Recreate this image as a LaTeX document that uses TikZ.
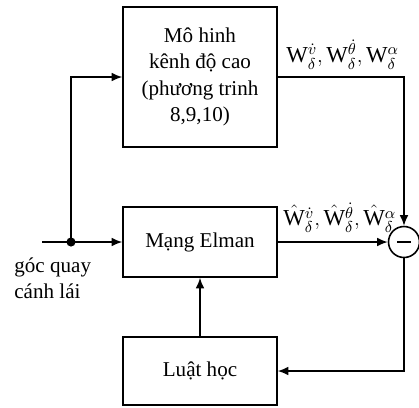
\documentclass[tikz,border=0pt]{standalone}
\usepackage{fontspec}
\setmainfont{Liberation Serif}
\usepackage{amsmath}
\usetikzlibrary{arrows.meta,calc,positioning}

\begin{document}
\begin{tikzpicture}[x=0.02cm,y=-0.02cm,
                block/.style={draw,line width=0.9pt,minimum width=3.08cm,align=center,font=\fontsize{12}{15}\selectfont},
                sig/.style={line width=0.9pt,-{Latex[length=6pt,width=5pt]}},
                wlabel/.style={font=\fontsize{13}{16}\selectfont,inner sep=1pt}]
                \useasboundingbox (0,0) rectangle (419,407);
                %Blocks
                \node[block,minimum height=2.8cm] (model) at (200,77) {Mô hinh\\kênh độ cao\\(phương trinh\\8,9,10)};
                \node[block,minimum height=1.4cm] (elman) at (200,242) {Mạng Elman};
                \node[block,minimum height=1.36cm] (luat) at (200,371) {Luật học};
                \node[draw,circle,line width=0.9pt,minimum size=0.62cm,inner sep=0pt] (sum) at (404,242) {};
                \draw[line width=0.9pt] ($(sum.center)+(-7,0)$) -- ($(sum.center)+(7,0)$);
                %Input
                \coordinate (in) at (42,242);
                \coordinate (split) at (71,242);
                \node[anchor=north west,align=left,inner sep=0pt,font=\fontsize{12}{15}\selectfont] (inlabel) at (14,257) {góc quay\\cánh lái};
                %Signals
                \draw[sig] (in) -- (elman.west);
                \draw[sig] (split) |- (model.west);
                \fill (split) circle(2.6pt);
                \draw[sig] (model.east) -| (sum.north) node[wlabel,pos=0.25,above=3pt,xshift=1pt] {$\mathrm{W}^{\dot v}_{\delta}{,}\,\mathrm{W}^{\dot\theta}_{\delta}{,}\,\mathrm{W}^{\alpha}_{\delta}$};
                \draw[sig] (elman.east) -- (sum.west) node[wlabel,midway,above=4pt,xshift=4pt] {$\hat{\mathrm{W}}^{\dot v}_{\delta}{,}\,\hat{\mathrm{W}}^{\dot\theta}_{\delta}{,}\,\hat{\mathrm{W}}^{\alpha}_{\delta}$};
                \draw[sig] (sum.south) |- (luat.east);
                \draw[sig] (luat.north) -- (elman.south);
            \end{tikzpicture}
\end{document}
